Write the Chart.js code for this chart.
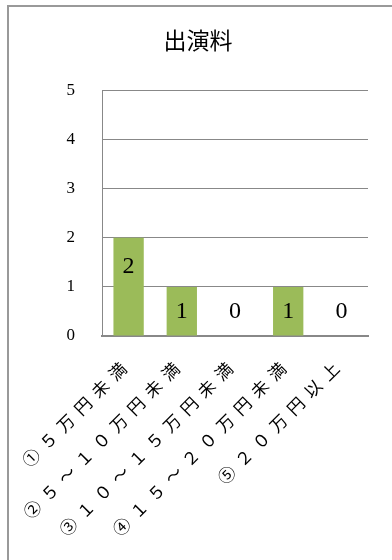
<!DOCTYPE html>
<html lang="ja">
<head>
<meta charset="utf-8">
<title>出演料</title>
<script src="https://cdn.jsdelivr.net/npm/chart.js@4/dist/chart.umd.min.js"></script>
<style>
  html, body { margin: 0; padding: 0; background: #fff; }
  #wrap { position: relative; width: 392px; height: 560px; overflow: hidden; }
  #frame { position: absolute; left: 7px; top: 5px; right: -4px; bottom: -4px;
           border-top: 2px solid #999; border-left: 2px solid #999; pointer-events: none; }
  canvas { position: absolute; left: 0; top: 0; }
</style>
</head>
<body>
<div id="wrap">
  <canvas id="chart" width="392" height="560"></canvas>
  <div id="frame"></div>
</div>
<script>
// Fee brackets (出演料) and the number of responses in each
const categories = ['①５万円未満', '②５～１０万円未満', '③１０～１５万円未満', '④１５～２０万円未満', '⑤２０万円以上'];
const counts = [2, 1, 0, 1, 0];
const yTicks = [0, 1, 2, 3, 4, 5];

const serif = '"Liberation Serif", "DejaVu Serif", serif';
const cjk = '"Noto Sans CJK JP", "Noto Sans CJK SC", sans-serif';

// Category axis whose labels are set with wide letter spacing
const BaseCategory = Chart.CategoryScale || Chart.registry.getScale('category');
class SpacedCategoryScale extends BaseCategory {
  fit() {
    this.ctx.save();
    this.ctx.letterSpacing = this.options.ticks.letterSpacing || '0px';
    super.fit();
    this.ctx.restore();
  }
  drawLabels(area) {
    this.ctx.save();
    this.ctx.letterSpacing = this.options.ticks.letterSpacing || '0px';
    super.drawLabels(area);
    this.ctx.restore();
  }
}
SpacedCategoryScale.id = 'spacedCategory';
SpacedCategoryScale.defaults = BaseCategory.defaults;
Chart.register(SpacedCategoryScale);

// Value labels: near the top inside each bar, kept above the baseline for short bars
const valueLabels = {
  id: 'valueLabels',
  afterDatasetsDraw(chart) {
    const ctx = chart.ctx;
    const meta = chart.getDatasetMeta(0);
    const base = chart.scales.y.getPixelForValue(0);
    ctx.save();
    ctx.font = '24px ' + serif;
    ctx.fillStyle = '#000';
    ctx.textAlign = 'center';
    ctx.textBaseline = 'middle';
    meta.data.forEach((bar, i) => {
      const y = Math.min(bar.y + 29, base - 24);
      ctx.fillText(String(counts[i]), bar.x, y);
    });
    ctx.restore();
  }
};

new Chart(document.getElementById('chart'), {
  type: 'bar',
  data: {
    labels: categories,
    datasets: [{
      data: counts,
      backgroundColor: '#9BBB59',
      borderWidth: 0,
      barPercentage: 0.57,
      categoryPercentage: 1
    }]
  },
  options: {
    responsive: false,
    animation: false,
    layout: { padding: { left: 28, right: 24, top: 0, bottom: 0 } },
    plugins: {
      legend: { display: false },
      tooltip: { enabled: false },
      title: {
        display: true,
        text: '出演料',
        color: '#000',
        font: { family: cjk, size: 23, weight: 'normal', lineHeight: 1.2 },
        padding: { top: 26, bottom: 37 }
      }
    },
    scales: {
      x: {
        type: 'spacedCategory',
        grid: { display: false, drawTicks: false },
        border: { display: true, color: '#888', width: 2 },
        ticks: {
          autoSkip: false,
          minRotation: 45,
          maxRotation: 45,
          padding: 17,
          color: '#000',
          letterSpacing: '7.4px',
          font: { family: cjk, size: 17 }
        },
        afterFit(scale) {
          scale.height = 224;
          scale.paddingLeft = 0;
          scale.paddingRight = 0;
        }
      },
      y: {
        min: 0,
        max: 5,
        afterBuildTicks(scale) { scale.ticks = yTicks.map(v => ({ value: v })); },
        grid: { color: '#888', lineWidth: 1, drawTicks: false },
        border: { display: true, color: '#888', width: 1 },
        ticks: {
          padding: 27,
          color: '#000',
          font: { family: serif, size: 17 }
        },
        afterFit(scale) {
          scale.width = 74;
          scale.paddingTop = 0;
          scale.paddingBottom = 0;
        }
      }
    }
  },
  plugins: [valueLabels]
});
</script>
</body>
</html>
